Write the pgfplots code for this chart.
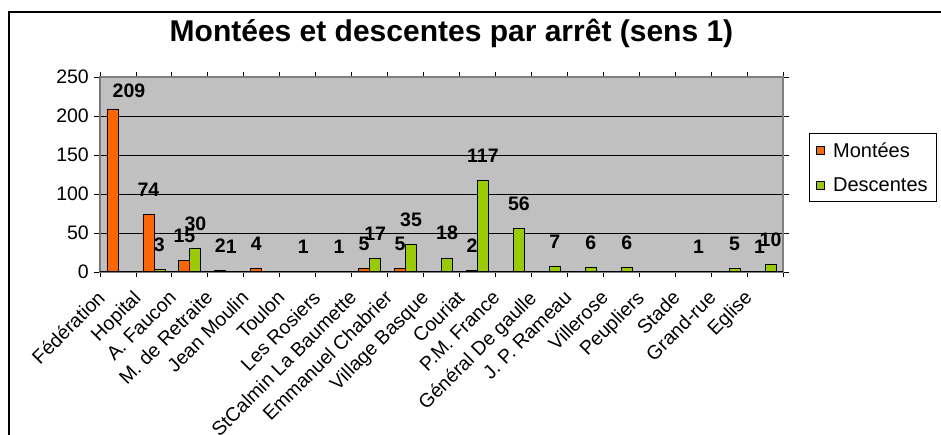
\documentclass[border=0pt]{standalone}
\usepackage{fontspec}
\setmainfont{Liberation Sans}
\usepackage{pgfplots}
\pgfplotsset{compat=1.18}
\definecolor{montees}{HTML}{FF6600}
\definecolor{descentes}{HTML}{99CC00}
\definecolor{fond}{HTML}{C0C0C0}
\definecolor{bord}{HTML}{808080}

\begin{document}
\begin{tikzpicture}
\useasboundingbox (-100pt,-163pt) rectangle (841pt,272pt);
% cadre du graphique (coupé à droite et en bas)
\draw[black, line width=1.2pt] (-91pt,-170pt) -- (-91pt,260pt) -- (850pt,260pt);
\node[font=\fontsize{30}{30}\selectfont\bfseries, anchor=base] at (351.5pt,230.3pt)
  {Montées et descentes par arrêt (sens 1)};
\begin{axis}[
    scale only axis,
    width=683pt, height=195pt,
    ybar=0pt, bar width=11pt,
    xmin=-0.5, xmax=18.5,
    ymin=0, ymax=250,
    ytick={0,50,...,250},
    xtick={0,...,18},
    xticklabels={Fédération, Hopital, A. Faucon, M. de Retraite, Jean Moulin,
      Toulon, Les Rosiers, StCalmin La Baumette, Emmanuel Chabrier,
      Village Basque, Couriat, P.M. France, Général De gaulle,
      J. P. Rameau, Villerose, Peupliers, Stade, Grand-rue, Eglise},
    minor xtick={-0.5,0.5,...,18.5},
    major x tick style={draw=none},
    tick align=outside,
    major tick length=6pt, minor tick length=5pt,
    tick style={black, line width=0.8pt},
    ymajorgrids, grid style={black, line width=0.8pt},
    axis background/.style={fill=fond},
    axis line style={bord, line width=1.5pt},
    /pgf/number format/assume math mode=true,
    yticklabel style={font=\fontsize{19.5}{19.5}\selectfont, anchor=east, inner sep=0pt, xshift=-5pt},
    xticklabel style={font=\fontsize{19.5}{19.5}\selectfont, xshift=-22pt, yshift=-11pt,
      rotate=45, anchor=north east, inner sep=0pt},
    nodes near coords,
    every node near coord/.append style={font=\fontsize{19.5}{19.5}\selectfont\bfseries,
      anchor=base, inner sep=0pt, yshift=18pt, black},
    legend style={at={(1.038,0.713)}, anchor=north west, draw=black, line width=0.8pt,
      font=\fontsize{20}{20}\selectfont, inner xsep=7pt, inner ysep=7pt,
      row sep=15pt},
    legend cell align=left,
    legend image code/.code={\draw[#1, line width=0.8pt] (0pt,-4pt) rectangle (8pt,4pt);},
    /tikz/every odd column/.append style={column sep=6pt},
]
\addplot[draw=black, line width=0.8pt, fill=montees,
  coordinate style/.condition={y>200}{xshift=16.5pt, yshift=-7pt}] coordinates {
  (0,209) (1,74) (2,15) (3,2) (4,4) (7,5) (8,5) (10,2) (18,1)
};
\addplot[draw=black, line width=0.8pt, fill=descentes] coordinates {
  (1,3) (2,30) (3,1) (5,1) (6,1) (7,17) (8,35) (9,18) (10,117)
  (11,56) (12,7) (13,6) (14,6) (16,1) (17,5) (18,10)
};
\legend{Montées, Descentes}
\draw[black, line width=1pt] (rel axis cs:0,1) -- (rel axis cs:0,0) -- (rel axis cs:1,0);
\end{axis}
\end{tikzpicture}
\end{document}
